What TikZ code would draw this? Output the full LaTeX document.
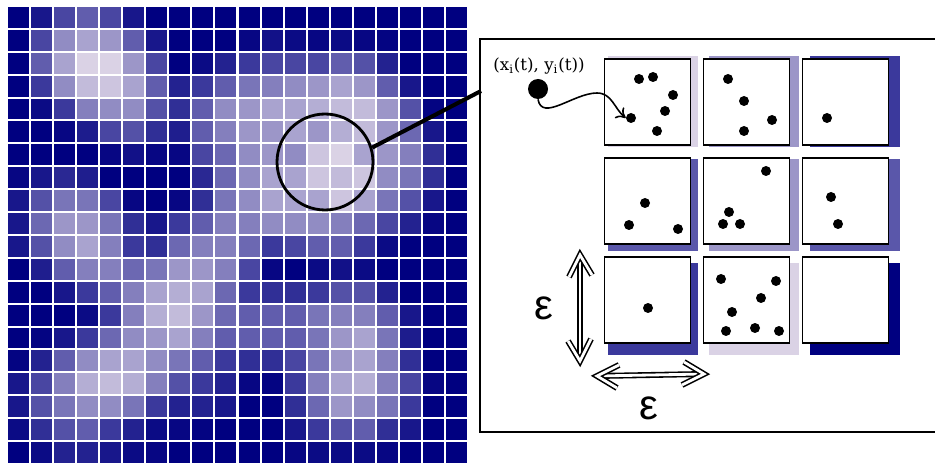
\documentclass[tikz,border=0pt]{standalone}
\usepackage{fontspec}
\usepackage{xcolor}
\usepackage{tikz}
\usetikzlibrary{
  arrows.meta,
  positioning,
  calc,
}
\newfontfamily\epsfont{Liberation Sans}
\newfontfamily\labfont{DejaVu Serif}
\definecolor{deepnavy}{RGB}{0,0,128}
\definecolor{paleheat}{RGB}{220,212,230}

\begin{document}
\begin{tikzpicture}[
  x=0.02cm, y=-0.02cm,
  lens/.style={draw=black, circle, line width=1.6pt, minimum size=1.92cm, inner sep=0pt},
  panelbox/.style={draw=black, line width=1.1pt, minimum width=9.6cm, minimum height=7.86cm},
  cellbox/.style={draw=black, fill=white, line width=1.1pt, minimum size=1.72cm, inner sep=0pt},
  dot/.style={circle, fill=black, minimum size=0.2cm, inner sep=0pt},
  bigdot/.style={circle, fill=black, minimum size=0.4cm, inner sep=0pt},
  span/.style={double, double distance=1.6pt, line width=0.9pt},
  spanhead/.style={span, line join=miter, line cap=butt},
  trail/.style={-{To[length=5pt, width=8pt]}, line width=0.9pt},
  epslabel/.style={font=\epsfont\fontsize{24}{24}\selectfont},
]
\useasboundingbox (0,0) rectangle (935,465);
\clip (0,0) rectangle (935,465);

% heat map
\foreach \rowvals [count=\r from 0] in {
  {0,1,3,4,3,1,0,0,0,0,0,0,0,0,0,0,0,0,0,0},
  {0,3,6,7,6.5,4,1,0,0,0,0.3,0.8,0.5,0.3,0.5,0.3,0.2,0,0,0},
  {0,4,7,9,9,6.5,3,0,0.5,1.5,2.5,3,3,3,4,3.5,1.5,0,0,0},
  {0,2.5,6,8,8.5,7,4,1.5,2.5,4,5,5.5,6,6.5,7,6.5,4,1,0,0},
  {0,0.5,2.5,5.5,6,6,3.5,2,4,6,6.5,7,7,7.5,8,8,6.5,3.5,0.2,0},
  {0,0,0.3,1.2,3,3.5,2,1.3,4,5.5,6.5,6.5,7,6.5,7.5,8,6.5,4.5,1,0},
  {0,0,0,0,0.3,0.8,0.3,0.3,3,4.5,6,6.5,6,8.5,9,7,6.5,5.5,2,0},
  {0.3,1,1.8,1.3,0,0,0,0,1.8,4.5,6,7,7,8.5,8,8.5,6,5,2,0},
  {1,3.5,5,5,3,0.3,0,0.3,2,5,6,7,7,7,8.5,7,5,3.5,1,0},
  {1,4.5,6.5,6.5,5,2,1,2.5,4,5.5,5.5,6,6,6,5.5,4.5,3,1.5,0.3,0},
  {1,3.5,6,7,5.5,2.5,2,4.5,5.5,5.5,4.5,2.5,3,4,4,2.5,0.5,0,0,0},
  {0,1.3,4,5.5,5.5,4.5,5,6.5,6.5,5.5,3,0.3,0,0.5,0.8,0.5,0,0,0,0},
  {0,0,1,2.5,4,5.5,7,7.5,7,4.5,2.5,2,2,2.5,3.5,3.5,1.5,0,0,0},
  {0,0,0,0.5,2.5,5.5,7.5,8,6.5,4.5,4,4,4,5,5.5,5.5,4,1,0,0},
  {0,0.2,1,2.5,4.5,6,6.5,7,5.5,4,4,4,4,5,6.5,7,5,1.2,0,0},
  {0.2,1.5,4,6,7,7,6,5,4,2.5,2,2,3,5,6.5,7,5.5,2,0,0},
  {1,3,5.5,7.5,8,7.5,5.5,3.5,2.5,1.5,0.3,0.2,2.5,5.5,7,7.5,5.5,3,0.3,0},
  {1,3.5,5,6,6,5,2.5,1.5,1.5,1,0,0,2,4.5,6.5,6,5,2.5,0,0},
  {0.5,2,3.5,4,2.5,1.5,0.5,0.3,0.2,0,0,0,1,2.5,3.5,4,2,1,0,0},
  {0,0.5,1.5,1.5,1,0.5,0.3,0,0,0,0,0,0.3,0.5,0.5,0.5,0.3,0,0,0}} {
  \foreach \v [count=\c from 0] in \rowvals {
    \pgfmathtruncatemacro\pc{\v*11}
    \fill[paleheat!\pc!deepnavy] (8+23.05*\c, 7+22.9*\r) rectangle ++(21,20.9);
  }
}

\node[lens] (lens) at (325,162) {};
\node[panelbox] (panel) at (720,235.5) {};
\coordinate (tap) at (481,91);
\draw[line width=2.3pt] (lens.17) -- (tap);

% shadows and cells
\foreach \shades [count=\r from 0] in {{9,6.5,2.5},{3.8,6.5,3.8},{2.5,9,0}} {
  \foreach \v [count=\c from 0] in \shades {
    \pgfmathtruncatemacro\pc{\v*11}
    \fill[paleheat!\pc!deepnavy] (608+101*\c, 56+103.5*\r) rectangle ++(90,91.5);
    \node[cellbox] (s-\r-\c) at (647.5+99*\c, 102+99*\r) {};
  }
}

\foreach \p in {(639,79),(653,77),(673,95),(665,111),(657,131),
                (728,79),(744,101),(772,120),(744,131),(827,118),
                (645,203),(629,225),(678,229),
                (766,171),(729,212),(723,224),(740,224),
                (831,197),(838,224),(648,308),
                (721,279),(776,281),(761,298),(732,312),(726,331),(755,328),(779,331)}
  \node[dot] at \p {};
\node[dot] (hit) at (631,118) {};

\node[bigdot] (pt) at (538,89) {};
\node[font=\labfont\fontsize{9.5}{11}\selectfont] (ptlabel) at (539,66)
  {(x\textsubscript{i}(t), y\textsubscript{i}(t))};
\coordinate (peak) at (597,93);
\draw[trail] (pt.south) to[out=-80, in=180] (peak) to[out=0, in=140] (hit.west);

% epsilon spans
\coordinate (vtop) at (580,255);
\coordinate (vbot) at (580,361);
\coordinate (hleft) at (597,376);
\coordinate (hright) at (704,374);
\draw[span, shorten <=3pt, shorten >=3pt] (vtop) -- (vbot);
\draw[span, shorten <=3pt, shorten >=3pt] (hleft) -- (hright);
\draw[spanhead] ($(vtop)+(-11,22)$) -- (vtop) -- ($(vtop)+(12,20)$);
\draw[spanhead] ($(vbot)+(-12,-20)$) -- (vbot) -- ($(vbot)+(11,-22)$);
\draw[spanhead] ($(hleft)+(22,-11)$) -- (hleft) -- ($(hleft)+(20,12)$);
\draw[spanhead] ($(hright)+(-20,-12)$) -- (hright) -- ($(hright)+(-22,11)$);
\node[epslabel] (epsv) at (544,308) {ε};
\node[epslabel] (epsh) at (649,408) {ε};

\end{tikzpicture}
\end{document}
